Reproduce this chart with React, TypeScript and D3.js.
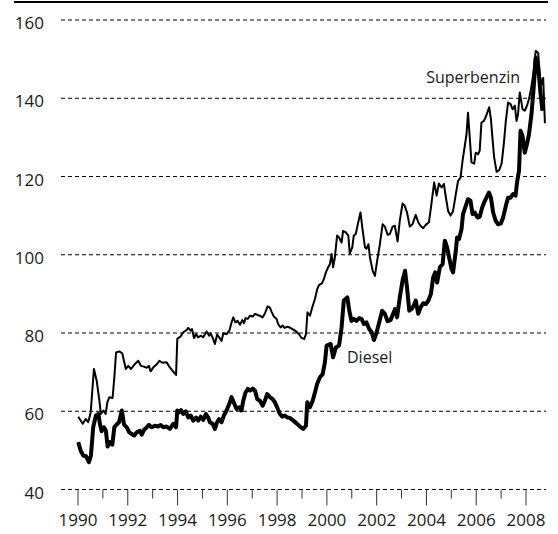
import React from "react";
import * as d3 from "d3";

// Reference index values (decimal year, index value)
const superbenzinYears = [
  1990.01, 1990.19, 1990.31, 1990.41, 1990.51, 1990.64, 1990.75, 1990.86, 1990.92, 1991.02,
  1991.11, 1991.18, 1991.26, 1991.39, 1991.46, 1991.53, 1991.66, 1991.78, 1991.92, 1992.02,
  1992.13, 1992.29, 1992.42, 1992.53, 1992.65, 1992.76, 1992.85, 1992.92, 1993.05, 1993.18,
  1993.27, 1993.4, 1993.56, 1993.69, 1993.86, 1993.94, 1993.99, 1994.12, 1994.23, 1994.37,
  1994.43, 1994.53, 1994.58, 1994.66, 1994.74, 1994.83, 1994.94, 1995.03, 1995.17, 1995.27,
  1995.33, 1995.43, 1995.5, 1995.59, 1995.67, 1995.77, 1995.84, 1995.97, 1996.08, 1996.17,
  1996.24, 1996.32, 1996.41, 1996.51, 1996.6, 1996.67, 1996.73, 1996.82, 1996.91, 1997.02,
  1997.11, 1997.22, 1997.31, 1997.42, 1997.51, 1997.62, 1997.71, 1997.78, 1997.87, 1997.98,
  1998.04, 1998.14, 1998.22, 1998.3, 1998.41, 1998.51, 1998.62, 1998.76, 1998.89, 1998.98,
  1999.09, 1999.16, 1999.22, 1999.32, 1999.41, 1999.52, 1999.61, 1999.69, 1999.8, 1999.88,
  1999.96, 2000.05, 2000.12, 2000.19, 2000.25, 2000.32, 2000.41, 2000.49, 2000.59, 2000.65,
  2000.76, 2000.86, 2000.92, 2001.02, 2001.08, 2001.16, 2001.26, 2001.35, 2001.43, 2001.53,
  2001.59, 2001.67, 2001.73, 2001.84, 2001.93, 2002.02, 2002.13, 2002.24, 2002.33, 2002.44,
  2002.53, 2002.64, 2002.73, 2002.84, 2002.93, 2003.04, 2003.13, 2003.22, 2003.33, 2003.44,
  2003.57, 2003.67, 2003.76, 2003.87, 2003.98, 2004.1, 2004.2, 2004.31, 2004.41, 2004.5,
  2004.61, 2004.7, 2004.78, 2004.87, 2004.97, 2005.07, 2005.18, 2005.27, 2005.37, 2005.45,
  2005.54, 2005.61, 2005.67, 2005.74, 2005.81, 2005.92, 2005.98, 2006.08, 2006.14, 2006.21,
  2006.31, 2006.41, 2006.52, 2006.59, 2006.65, 2006.72, 2006.82, 2006.92, 2007.02, 2007.11,
  2007.19, 2007.28, 2007.38, 2007.46, 2007.55, 2007.62, 2007.68, 2007.75, 2007.86, 2007.95,
  2008.04, 2008.12, 2008.19, 2008.29, 2008.39, 2008.49, 2008.55, 2008.62, 2008.69, 2008.76,
];
const superbenzinValues = [
  58.6, 56.8, 58.0, 57.2, 59.7, 70.8, 67.8, 62.7, 59.3, 60.2,
  59.3, 62.3, 63.6, 63.4, 68.7, 75.0, 75.3, 74.8, 70.8, 71.6,
  70.8, 72.1, 72.9, 71.6, 71.4, 71.1, 71.6, 70.2, 71.4, 72.1,
  72.9, 72.4, 72.5, 71.2, 69.9, 69.3, 78.5, 79.1, 80.2, 80.8,
  81.3, 80.6, 81.0, 78.7, 79.7, 78.9, 79.3, 78.9, 80.4, 79.3,
  79.9, 78.5, 77.2, 79.6, 78.9, 78.0, 79.9, 79.7, 80.6, 82.7,
  84.0, 82.7, 83.1, 82.1, 83.3, 82.5, 83.8, 83.6, 84.4, 84.2,
  84.9, 84.6, 84.4, 84.0, 85.0, 86.8, 86.5, 85.4, 84.2, 83.6,
  82.3, 81.4, 81.9, 81.3, 81.6, 81.4, 81.0, 80.4, 79.6, 78.7,
  78.5, 79.7, 85.3, 84.4, 86.5, 88.7, 91.2, 92.3, 92.7, 93.8,
  95.5, 96.8, 97.6, 100.2, 96.8, 99.3, 104.9, 104.4, 103.1, 106.1,
  105.7, 104.9, 100.3, 101.9, 104.9, 105.3, 108.3, 110.8, 106.6, 101.9,
  101.5, 102.7, 99.3, 95.9, 94.6, 98.5, 102.7, 107.8, 107.2, 105.1,
  105.3, 107.2, 107.4, 103.4, 108.7, 113.1, 112.5, 110.8, 107.2, 107.8,
  110.2, 108.3, 107.4, 106.8, 107.7, 108.3, 113.0, 118.5, 115.1, 118.2,
  117.2, 118.1, 114.7, 111.2, 110.0, 111.2, 115.5, 118.9, 119.7, 124.0,
  127.8, 130.8, 136.3, 130.0, 123.6, 123.3, 126.1, 125.7, 126.6, 133.8,
  134.2, 135.7, 137.7, 134.7, 130.0, 124.9, 121.2, 121.6, 123.3, 128.4,
  134.2, 138.9, 138.5, 137.2, 138.1, 134.2, 135.9, 141.5, 137.2, 136.8,
  138.1, 139.8, 141.9, 146.1, 152.1, 151.6, 146.1, 143.5, 145.2, 133.6,
];

const dieselYears = [
  1990.01, 1990.11, 1990.21, 1990.32, 1990.44, 1990.52, 1990.61, 1990.72, 1990.82, 1990.88,
  1990.95, 1991.04, 1991.12, 1991.19, 1991.29, 1991.38, 1991.46, 1991.55, 1991.65, 1991.76,
  1991.85, 1991.96, 1992.06, 1992.16, 1992.26, 1992.36, 1992.49, 1992.56, 1992.65, 1992.76,
  1992.85, 1992.96, 1993.09, 1993.22, 1993.32, 1993.43, 1993.56, 1993.69, 1993.83, 1993.94,
  1993.99, 1994.07, 1994.14, 1994.23, 1994.33, 1994.43, 1994.53, 1994.63, 1994.74, 1994.83,
  1994.93, 1995.03, 1995.14, 1995.23, 1995.3, 1995.41, 1995.5, 1995.59, 1995.67, 1995.77,
  1995.86, 1995.97, 1996.08, 1996.17, 1996.28, 1996.37, 1996.48, 1996.57, 1996.64, 1996.73,
  1996.82, 1996.91, 1997.02, 1997.11, 1997.2, 1997.31, 1997.42, 1997.51, 1997.6, 1997.71,
  1997.82, 1997.91, 1998.0, 1998.11, 1998.21, 1998.31, 1998.42, 1998.51, 1998.65, 1998.78,
  1998.92, 1999.05, 1999.16, 1999.21, 1999.32, 1999.43, 1999.52, 1999.61, 1999.72, 1999.83,
  1999.92, 1999.99, 2000.15, 2000.25, 2000.36, 2000.49, 2000.59, 2000.68, 2000.82, 2000.9,
  2000.99, 2001.08, 2001.19, 2001.3, 2001.39, 2001.49, 2001.59, 2001.7, 2001.8, 2001.89,
  2002.0, 2002.1, 2002.22, 2002.33, 2002.44, 2002.56, 2002.66, 2002.74, 2002.82, 2002.93,
  2003.04, 2003.14, 2003.22, 2003.31, 2003.4, 2003.49, 2003.57, 2003.67, 2003.76, 2003.87,
  2003.98, 2004.08, 2004.18, 2004.27, 2004.35, 2004.43, 2004.54, 2004.65, 2004.74, 2004.83,
  2004.91, 2005.01, 2005.07, 2005.18, 2005.23, 2005.31, 2005.41, 2005.47, 2005.58, 2005.67,
  2005.77, 2005.85, 2005.94, 2006.05, 2006.14, 2006.24, 2006.32, 2006.41, 2006.51, 2006.59,
  2006.68, 2006.78, 2006.88, 2006.99, 2007.08, 2007.19, 2007.28, 2007.38, 2007.48, 2007.58,
  2007.64, 2007.72, 2007.78, 2007.86, 2007.95, 2008.04, 2008.12, 2008.22, 2008.31, 2008.39,
  2008.49, 2008.58, 2008.66,
];
const dieselValues = [
  52.1, 49.9, 48.7, 48.5, 47.0, 48.7, 55.9, 58.9, 59.3, 56.8,
  54.9, 55.9, 55.0, 51.0, 52.1, 51.5, 55.9, 56.6, 57.2, 60.2,
  56.6, 55.9, 54.6, 54.2, 53.8, 54.6, 55.0, 54.0, 55.2, 55.9,
  56.5, 55.9, 56.3, 56.1, 56.5, 55.9, 56.1, 55.5, 56.8, 55.9,
  60.2, 59.7, 60.3, 59.3, 60.0, 58.4, 58.9, 57.6, 58.4, 57.6,
  58.6, 57.8, 59.3, 58.4, 57.2, 56.8, 55.5, 57.2, 58.0, 57.2,
  58.9, 60.2, 61.9, 63.6, 61.9, 60.6, 61.0, 60.2, 62.7, 64.8,
  65.7, 65.3, 65.8, 65.3, 63.1, 62.7, 61.4, 62.7, 64.4, 63.6,
  63.1, 62.3, 61.0, 59.3, 58.6, 58.9, 58.4, 58.3, 57.6, 56.9,
  56.1, 55.5, 56.3, 62.3, 61.0, 62.7, 64.8, 67.0, 68.7, 69.5,
  72.5, 76.8, 77.2, 73.8, 76.3, 76.8, 81.4, 88.3, 89.1, 85.7,
  83.1, 83.6, 83.1, 83.8, 83.6, 82.3, 82.7, 81.0, 80.2, 78.2,
  80.2, 82.7, 85.7, 84.9, 83.0, 83.3, 84.9, 86.1, 84.0, 89.1,
  93.4, 95.9, 91.6, 85.7, 86.1, 87.0, 88.3, 84.9, 86.5, 87.6,
  87.4, 88.3, 90.0, 94.2, 95.5, 92.9, 96.8, 97.6, 103.6, 101.9,
  99.3, 96.3, 95.5, 101.0, 104.4, 104.0, 106.6, 110.4, 112.5, 114.2,
  113.8, 110.4, 110.8, 109.5, 109.7, 112.1, 113.4, 114.6, 115.9, 114.6,
  110.8, 108.7, 107.8, 108.0, 109.5, 112.5, 114.6, 114.6, 115.5, 115.1,
  118.5, 121.5, 131.7, 130.4, 126.1, 128.3, 130.8, 135.9, 142.8, 150.4,
  147.9, 141.5, 136.8,
];

const yTicks = [40, 60, 80, 100, 120, 140, 160];
const majorYears = [1990, 1992, 1994, 1996, 1998, 2000, 2002, 2004, 2006, 2008];
const minorYears = [1991, 1993, 1995, 1997, 1999, 2001, 2003, 2005, 2007];
const seriesLabels = ["Superbenzin", "Diesel"];

const W = 558;
const H = 534;

export default function App() {
  const x = d3.scaleLinear().domain([1990, 2008]).range([78, 526]);
  const y = d3.scaleLinear().domain([40, 160]).range([489.5, 20]);

  const line = d3
    .line<[number, number]>()
    .x((d) => x(d[0]))
    .y((d) => y(d[1]))
    .curve(d3.curveLinear);

  const sb: [number, number][] = superbenzinYears.map((t, i) => [t, superbenzinValues[i]]);
  const di: [number, number][] = dieselYears.map((t, i) => [t, dieselValues[i]]);

  const font = "'Open Sans', 'DejaVu Sans', sans-serif";
  const textColor = "#1a1a1a";
  const axisY = y(40);

  return (
    <svg
      width={W}
      height={H}
      viewBox={`0 0 ${W} ${H}`}
      style={{ position: "absolute", left: 0, top: 0, background: "#fff" }}
    >
      <rect x={0} y={0} width={W} height={H} fill="#fff" />
      {/* top rule */}
      <line x1={14} x2={548} y1={2} y2={2} stroke="#000" strokeWidth={2} />

      {/* grid + y labels */}
      {yTicks.map((v) => (
        <g key={v}>
          <line
            x1={61}
            x2={546}
            y1={y(v)}
            y2={y(v)}
            stroke="#000"
            strokeWidth={1}
            strokeDasharray="4,3"
          />
          <text
            x={44}
            y={y(v) + 9}
            textAnchor="end"
            fontFamily={font}
            fontSize={17}
            fill={textColor}
          >
            {v}
          </text>
        </g>
      ))}

      {/* x ticks */}
      {majorYears.map((yr) => (
        <g key={yr}>
          <line x1={x(yr)} x2={x(yr)} y1={axisY} y2={axisY + 16} stroke="#333" strokeWidth={1} />
          <text
            x={x(yr)}
            y={526}
            textAnchor="middle"
            fontFamily={font}
            fontSize={17}
            fill={textColor}
          >
            {yr}
          </text>
        </g>
      ))}
      {minorYears.map((yr) => (
        <line key={yr} x1={x(yr)} x2={x(yr)} y1={axisY} y2={axisY + 9} stroke="#333" strokeWidth={1} />
      ))}

      {/* series */}
      <path d={line(sb) || ""} fill="none" stroke="#000" strokeWidth={2} strokeLinejoin="round" />
      <path d={line(di) || ""} fill="none" stroke="#000" strokeWidth={4} strokeLinejoin="round" />

      {/* labels */}
      <text x={520} y={83.3} textAnchor="end" fontFamily={font} fontSize={16} fill={textColor}>
        {seriesLabels[0]}
      </text>
      <text x={347} y={363.3} fontFamily={font} fontSize={16} fill={textColor}>
        {seriesLabels[1]}
      </text>
    </svg>
  );
}
